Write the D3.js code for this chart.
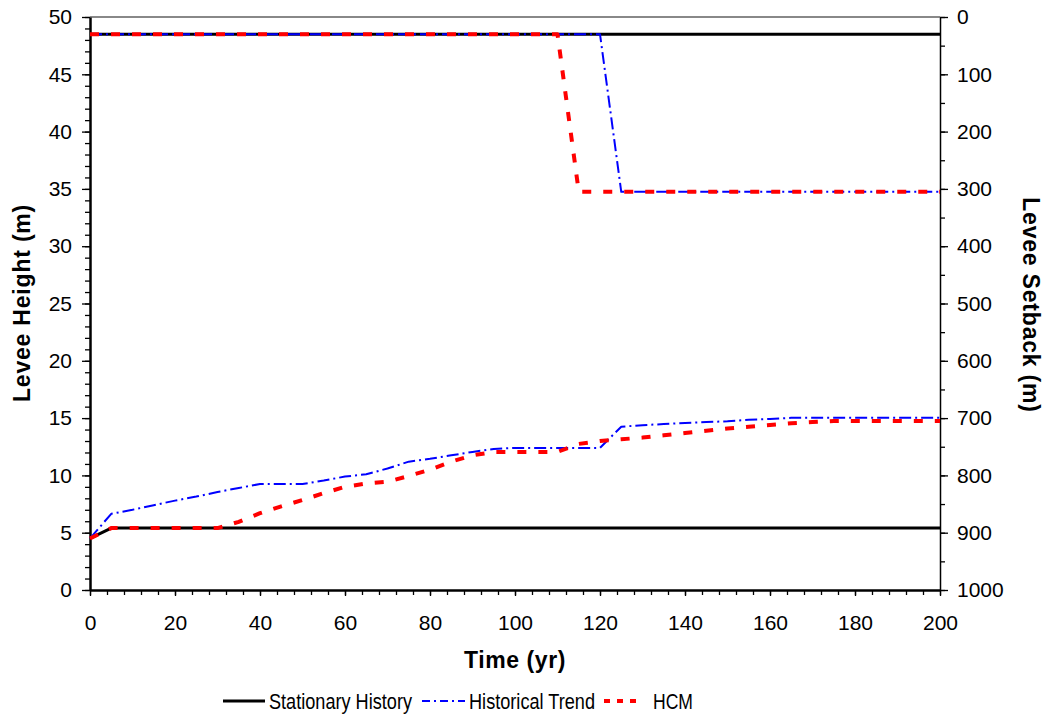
<!DOCTYPE html>
<html>
<head>
<meta charset="utf-8">
<script src="https://cdn.jsdelivr.net/npm/d3@7"></script>
<style>
  html, body { margin: 0; padding: 0; background: #fff; }
  svg { display: block; font-family: "Liberation Sans", Arial, sans-serif; }
</style>
</head>
<body>
<svg id="chart" width="1047" height="715"></svg>
<script>
// Time (yr), sampled every 5 years
const years = [0, 5, 10, 15, 20, 25, 30, 35, 40, 45, 50, 55, 60, 65, 70, 75, 80, 85, 90, 95, 100,
  105, 110, 115, 120, 125, 130, 135, 140, 145, 150, 155, 160, 165, 170, 175, 180, 185, 190, 195, 200];

// Levee height (m), left axis
const heightStationary = [4.5, 5.4, 5.4, 5.4, 5.4, 5.4, 5.4, 5.4, 5.4, 5.4, 5.4, 5.4, 5.4, 5.4, 5.4, 5.4, 5.4, 5.4, 5.4, 5.4, 5.4,
  5.4, 5.4, 5.4, 5.4, 5.4, 5.4, 5.4, 5.4, 5.4, 5.4, 5.4, 5.4, 5.4, 5.4, 5.4, 5.4, 5.4, 5.4, 5.4, 5.4];
const heightTrend = [4.5, 6.65, 7.0, 7.4, 7.8, 8.15, 8.55, 8.9, 9.25, 9.25, 9.25, 9.55, 9.9, 10.1, 10.6, 11.2, 11.45, 11.75, 12.05, 12.3, 12.4,
  12.4, 12.4, 12.4, 12.4, 14.25, 14.38, 14.48, 14.58, 14.65, 14.72, 14.85, 14.93, 15.02, 15.02, 15.02, 15.02, 15.02, 15.02, 15.02, 15.02];
const heightHCM = [4.5, 5.4, 5.4, 5.4, 5.4, 5.4, 5.4, 5.95, 6.7, 7.3, 7.85, 8.45, 9.0, 9.3, 9.45, 9.95, 10.5, 11.2, 11.75, 12.05, 12.05,
  12.05, 12.05, 12.75, 13.0, 13.15, 13.3, 13.5, 13.7, 13.9, 14.1, 14.25, 14.4, 14.55, 14.65, 14.75, 14.75, 14.75, 14.75, 14.75, 14.75];

// Levee setback (m), right axis
const setbackStationary = [30, 30, 30, 30, 30, 30, 30, 30, 30, 30, 30, 30, 30, 30, 30, 30, 30, 30, 30, 30, 30,
  30, 30, 30, 30, 30, 30, 30, 30, 30, 30, 30, 30, 30, 30, 30, 30, 30, 30, 30, 30];
const setbackTrend = [30, 30, 30, 30, 30, 30, 30, 30, 30, 30, 30, 30, 30, 30, 30, 30, 30, 30, 30, 30, 30,
  30, 30, 30, 30, 305, 305, 305, 305, 305, 305, 305, 305, 305, 305, 305, 305, 305, 305, 305, 305];
const setbackHCM = [30, 30, 30, 30, 30, 30, 30, 30, 30, 30, 30, 30, 30, 30, 30, 30, 30, 30, 30, 30, 30,
  30, 30, 305, 305, 305, 305, 305, 305, 305, 305, 305, 305, 305, 305, 305, 305, 305, 305, 305, 305];

const seriesNames = ["Stationary History", "Historical Trend", "HCM"];

// Axis ticks
const xMajorTicks = [0, 20, 40, 60, 80, 100, 120, 140, 160, 180, 200];
const heightMajorTicks = [0, 5, 10, 15, 20, 25, 30, 35, 40, 45, 50];
const setbackMajorTicks = [0, 100, 200, 300, 400, 500, 600, 700, 800, 900, 1000];

const svg = d3.select("#chart");
const m = { left: 90, top: 17, right: 107, bottom: 125 };
const W = 1047 - m.left - m.right;   // 850
const H = 715 - m.top - m.bottom;    // 573

const x = d3.scaleLinear().domain([0, 200]).range([0, W]);
const yL = d3.scaleLinear().domain([0, 50]).range([H, 0]);
const yR = d3.scaleLinear().domain([0, 1000]).range([0, H]);

const g = svg.append("g").attr("transform", `translate(${m.left},${m.top})`);

// plot frame (top edge is grey)
g.append("line").attr("x1", 0).attr("x2", W).attr("y1", 0).attr("y2", 0)
  .attr("stroke", "#888").attr("stroke-width", 2);

const fontSize = 21;

function styleAxis(sel, width) {
  sel.select(".domain").attr("stroke", "#000").attr("stroke-width", width);
  sel.selectAll(".tick line").attr("stroke", "#000").attr("stroke-width", 1.3);
  sel.selectAll("text").attr("font-size", fontSize).attr("fill", "#000")
    .attr("font-family", "Liberation Sans, Arial, sans-serif");
}

// minor ticks
const xMinor = d3.range(0, 201, 4);
const hMinor = d3.range(0, 51, 1);
const sMinor = d3.range(0, 1001, 50);

g.append("g").attr("transform", `translate(0,${H})`)
  .call(d3.axisBottom(x).tickValues(xMinor).tickSize(5).tickFormat(""))
  .call(s => { s.select(".domain").remove(); s.selectAll("line").attr("stroke", "#000").attr("stroke-width", 1.3); });
g.append("g")
  .call(d3.axisLeft(yL).tickValues(hMinor).tickSize(5).tickFormat(""))
  .call(s => { s.select(".domain").remove(); s.selectAll("line").attr("stroke", "#000").attr("stroke-width", 1.3); });
g.append("g").attr("transform", `translate(${W},0)`)
  .call(d3.axisRight(yR).tickValues(sMinor).tickSize(5).tickFormat(""))
  .call(s => { s.select(".domain").remove(); s.selectAll("line").attr("stroke", "#000").attr("stroke-width", 1.3); });

// major axes
g.append("g").attr("transform", `translate(0,${H})`)
  .call(d3.axisBottom(x).tickValues(xMajorTicks).tickSize(6).tickSizeOuter(0).tickPadding(19).tickFormat(d3.format("d")))
  .call(s => styleAxis(s, 2.5));
g.append("g")
  .call(d3.axisLeft(yL).tickValues(heightMajorTicks).tickSize(8).tickSizeOuter(0).tickPadding(10).tickFormat(d3.format("d")))
  .call(s => styleAxis(s, 2.5));
g.append("g").attr("transform", `translate(${W},0)`)
  .call(d3.axisRight(yR).tickValues(setbackMajorTicks).tickSize(8).tickSizeOuter(0).tickPadding(9).tickFormat(d3.format("d")))
  .call(s => styleAxis(s, 1.5));

// series
const styles = [
  { color: "#000", width: 3, dash: null, legendDash: null },
  { color: "#0000ff", width: 2, dash: "12,4,2,4", legendDash: "8,4,2,4" },
  { color: "#ff0000", width: 4, dash: "9,12", legendDash: "6,7" }
];
const heights = [heightStationary, heightTrend, heightHCM];
const setbacks = [setbackStationary, setbackTrend, setbackHCM];

const lineL = d3.line().x((d, i) => x(years[i])).y(d => yL(d));
const lineR = d3.line().x((d, i) => x(years[i])).y(d => yR(d));

heights.forEach((vals, k) => {
  const st = styles[k];
  [lineL(vals), lineR(setbacks[k])].forEach(p => {
    g.append("path").attr("d", p)
      .attr("fill", "none")
      .attr("stroke", st.color)
      .attr("stroke-width", st.width)
      .attr("stroke-dasharray", st.dash)
      .attr("stroke-linejoin", "round");
  });
});

// axis titles
svg.append("text").attr("transform", "translate(30,303) rotate(-90)")
  .attr("text-anchor", "middle").attr("font-weight", "bold").attr("font-size", 23)
  .attr("letter-spacing", 0.8).text("Levee Height (m)");
svg.append("text").attr("transform", "translate(1023,305) rotate(90)")
  .attr("text-anchor", "middle").attr("font-weight", "bold").attr("font-size", 23)
  .attr("letter-spacing", 0.8).text("Levee Setback (m)");
svg.append("text").attr("x", 515).attr("y", 668)
  .attr("text-anchor", "middle").attr("font-weight", "bold").attr("font-size", 23)
  .attr("letter-spacing", 0.6).text("Time (yr)");

// legend (condensed labels)
const legendItems = [
  { x1: 223, x2: 265, tx: 269, len: 143 },
  { x1: 422, x2: 465, tx: 469, len: 126 },
  { x1: 604, x2: 640, tx: 653, len: 40 }
];
const legend = svg.append("g");
legendItems.forEach((it, k) => {
  const st = styles[k];
  legend.append("line").attr("x1", it.x1).attr("x2", it.x2).attr("y1", 701).attr("y2", 701)
    .attr("stroke", st.color).attr("stroke-width", k === 0 ? 3 : (k === 1 ? 2 : 4))
    .attr("stroke-dasharray", st.legendDash);
  legend.append("text").attr("x", it.tx).attr("y", 709).attr("font-size", 22.5)
    .attr("textLength", it.len).attr("lengthAdjust", "spacingAndGlyphs")
    .attr("fill", "#000").text(seriesNames[k]);
});
</script>
</body>
</html>
